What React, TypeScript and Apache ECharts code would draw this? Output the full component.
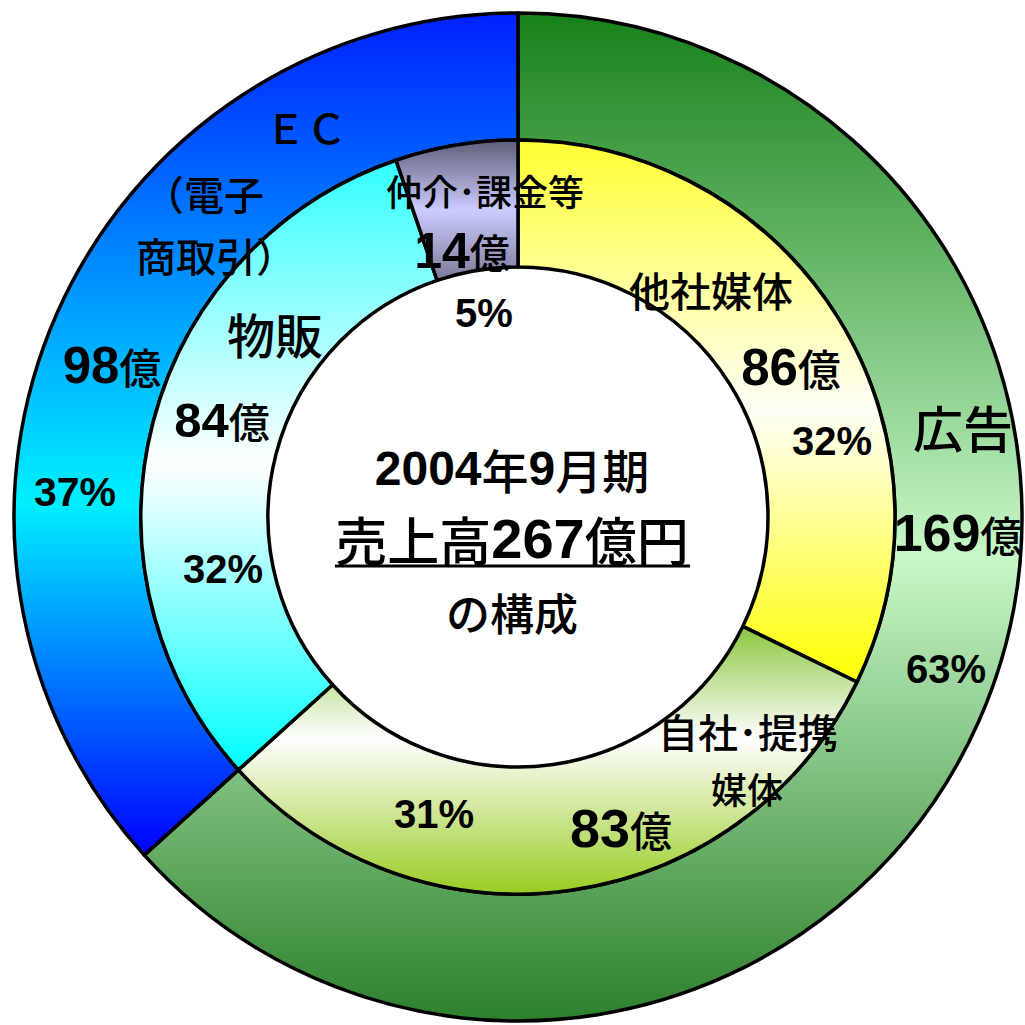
import React, { useEffect, useRef } from "react";
import * as echarts from "echarts";

// ---- data ----
const outerNames = ["広告", "EC"];
const outerValues = [169, 98];
const outerPct = ["63%", "37%"];

const innerNames = ["他社媒体", "自社･提携媒体", "物販", "仲介･課金等"];
const innerValues = [86, 83, 84, 14];
const innerPct = ["32%", "31%", "32%", "5%"];

const totalLabel = "267";

// ---- styles ----
const NUM = '"Liberation Sans", Arial, sans-serif';
const JP = '"Noto Sans CJK JP", "Noto Sans CJK SC", sans-serif';
const JPW = 500;

const vgrad = (a: string, b: string, c: string, mid = 0.5) =>
  new echarts.graphic.LinearGradient(0, 0, 0, 1, [
    { offset: 0, color: a },
    { offset: mid, color: b },
    { offset: 1, color: c },
  ]);

const outerColors = [
  vgrad("#17801a", "#c8f8c8", "#2c802c", 0.54),
  vgrad("#0020ff", "#00f0ff", "#0000ff", 0.58),
];
const innerColors = [
  vgrad("#ffff33", "#fffff8", "#ffff00", 0.5),
  vgrad("#8cc63f", "#ffffff", "#99cc22", 0.42),
  vgrad("#33ffff", "#ffffff", "#00ffff", 0.5),
  vgrad("#5e5e78", "#ccccff", "#7a7a98", 0.5),
];

const rich = (nSize: number, uSize: number) => ({
  n: { fontFamily: NUM, fontWeight: "bold", fontSize: nSize, fill: "#000" },
  u: { fontFamily: JP, fontWeight: JPW, fontSize: uSize, fill: "#000" },
});

const jpText = (text: string, x: number, y: number, size: number, align = "center") => ({
  type: "text",
  x,
  y,
  z: 100,
  silent: true,
  style: {
    text,
    fontFamily: JP,
    fontSize: size,
    fontWeight: JPW,
    fill: "#000",
    align,
    verticalAlign: "middle",
  },
});

const pctText = (text: string, x: number, y: number, size = 40) => ({
  type: "text",
  x,
  y,
  z: 100,
  silent: true,
  style: {
    text,
    fontFamily: NUM,
    fontSize: size,
    fontWeight: "bold",
    fill: "#000",
    align: "center",
    verticalAlign: "middle",
  },
});

const okuText = (v: number, x: number, y: number, nSize = 51, uSize = 42) => ({
  type: "text",
  x,
  y,
  z: 100,
  silent: true,
  style: {
    text: `{n|${v}}{u|億}`,
    rich: rich(nSize, uSize),
    align: "center",
    verticalAlign: "middle",
  },
});

export default function App() {
  const ref = useRef<HTMLDivElement>(null);
  useEffect(() => {
    if (!ref.current) return;
    const chart = echarts.init(ref.current, undefined, { renderer: "svg" });
    const center = [518, 517];
    const option: any = {
      animation: false,
      backgroundColor: "#ffffff",
      series: [
        {
          type: "pie",
          center,
          radius: [377, 504],
          startAngle: 90,
          clockwise: true,
          label: { show: false },
          labelLine: { show: false },
          silent: true,
          itemStyle: { borderColor: "#000", borderWidth: 3.5 },
          data: outerNames.map((name, i) => ({
            name,
            value: outerValues[i],
            itemStyle: { color: outerColors[i] },
          })),
        },
        {
          type: "pie",
          center,
          radius: [250, 377],
          startAngle: 90,
          clockwise: true,
          label: { show: false },
          labelLine: { show: false },
          silent: true,
          itemStyle: { borderColor: "#000", borderWidth: 3.5 },
          data: innerNames.map((name, i) => ({
            name,
            value: innerValues[i],
            itemStyle: { color: innerColors[i] },
          })),
        },
      ],
      graphic: [
        // outer: EC
        jpText("ＥＣ", 306, 126, 41),
        jpText("（電子", 264, 193, 40, "right"),
        jpText("商取引）", 136, 255, 40, "left"),
        okuText(outerValues[1], 112, 365, 51, 42),
        pctText(outerPct[1], 75, 492, 41),
        // outer: 広告
        jpText(outerNames[0], 963, 426, 50),
        okuText(outerValues[0], 958, 533, 52, 42),
        pctText(outerPct[0], 946, 669, 40),
        // inner: 仲介･課金等
        jpText(innerNames[3], 485, 190, 36),
        okuText(innerValues[3], 462, 251, 50, 40),
        pctText(innerPct[3], 484, 313, 40),
        // inner: 他社媒体
        jpText(innerNames[0], 711, 289, 41),
        okuText(innerValues[0], 791, 367, 51, 43),
        pctText(innerPct[0], 832, 441, 40),
        // inner: 物販
        jpText(innerNames[2], 275, 333, 48),
        okuText(innerValues[2], 222, 420, 49, 41),
        pctText(innerPct[2], 223, 569, 40),
        // inner: 自社･提携媒体
        jpText("自社･提携", 748, 731, 40),
        jpText("媒体", 747, 788, 36),
        okuText(innerValues[1], 621, 828, 54, 42),
        pctText(innerPct[1], 434, 814, 40),
        // center
        {
          type: "text",
          x: 512,
          y: 468,
          z: 100,
          silent: true,
          style: {
            text: `{n|2004}{u|年}{n|9}{u|月期}`,
            rich: rich(48, 47),
            align: "center",
            verticalAlign: "middle",
          },
        },
        {
          type: "text",
          x: 512,
          y: 538,
          z: 100,
          silent: true,
          style: {
            text: `{u|売上高}{n|${totalLabel}}{u|億円}`,
            rich: rich(56, 52),
            align: "center",
            verticalAlign: "middle",
          },
        },
        {
          type: "line",
          z: 100,
          silent: true,
          shape: { x1: 335, y1: 566, x2: 690, y2: 566 },
          style: { stroke: "#000", lineWidth: 3 },
        },
        jpText("の構成", 512, 612, 44),
      ],
    };
    chart.setOption(option);
    return () => chart.dispose();
  }, []);
  return (
    <div
      ref={ref}
      style={{ position: "fixed", left: 0, top: 0, width: 1025, height: 1025 }}
    />
  );
}
